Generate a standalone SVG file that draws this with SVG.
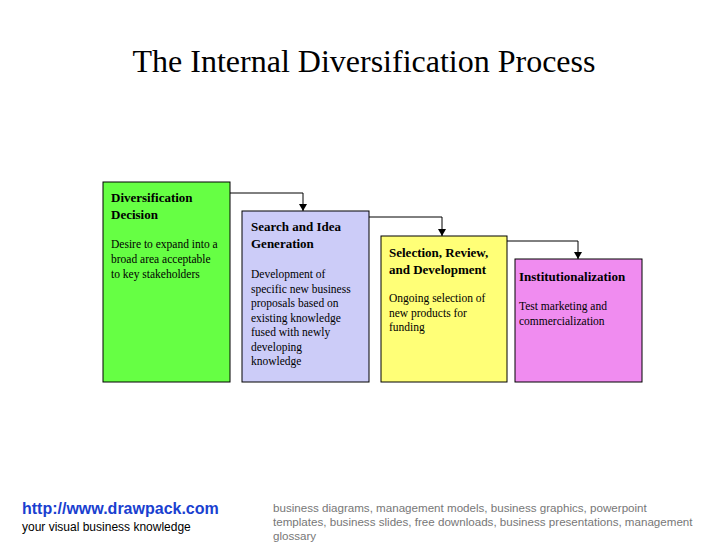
<svg xmlns="http://www.w3.org/2000/svg" width="728" height="546" viewBox="0 0 728 546">
<style>
.box{stroke:#000;stroke-width:1}
.h{font-family:"Liberation Serif",serif;font-size:13px;font-weight:bold;fill:#000}
.b{font-family:"Liberation Serif",serif;font-size:11.5px;fill:#000}
.c{fill:none;stroke:#000;stroke-width:1}
</style>
<defs><marker id="a" markerWidth="8" markerHeight="8" refX="7" refY="4" orient="auto" markerUnits="userSpaceOnUse"><path d="M0,0 L7,4 L0,8 z" fill="#000"/></marker></defs>
<rect width="728" height="546" fill="#fff"/>
<text x="364" y="72" text-anchor="middle" font-family="Liberation Serif,serif" font-size="32">The Internal Diversification Process</text>
<g id="connectors">
<path class="c" d="M230,193 H303 V211" marker-end="url(#a)"/>
<path class="c" d="M369,217 H442 V236" marker-end="url(#a)"/>
<path class="c" d="M507,241 H578 V259" marker-end="url(#a)"/>
</g>
<g id="n1"><rect class="box" x="103" y="182" width="127" height="200" fill="#66ff44"/>
<text class="h" x="111" y="202">Diversification</text><text class="h" x="111" y="219">Decision</text>
<text class="b" x="111" y="248">Desire to expand into a</text><text class="b" x="111" y="263">broad area acceptable</text><text class="b" x="111" y="278">to key stakeholders</text></g>
<g id="n2"><rect class="box" x="242" y="211" width="127" height="171" fill="#ccccf8"/>
<text class="h" x="251" y="231">Search and Idea</text><text class="h" x="251" y="248">Generation</text>
<text class="b" x="251" y="278">Development of</text><text class="b" x="251" y="293">specific new business</text><text class="b" x="251" y="307">proposals based on</text><text class="b" x="251" y="322">existing knowledge</text><text class="b" x="251" y="336">fused with newly</text><text class="b" x="251" y="351">developing</text><text class="b" x="251" y="365">knowledge</text></g>
<g id="n3"><rect class="box" x="381" y="236" width="126" height="146" fill="#ffff77"/>
<text class="h" x="389" y="257">Selection, Review,</text><text class="h" x="389" y="274">and Development</text>
<text class="b" x="389" y="302">Ongoing selection of</text><text class="b" x="389" y="317">new products for</text><text class="b" x="389" y="331">funding</text></g>
<g id="n4"><rect class="box" x="515" y="259" width="127" height="123" fill="#f08cf0"/>
<text class="h" x="519" y="281">Institutionalization</text>
<text class="b" x="519" y="310">Test marketing and</text><text class="b" x="519" y="325">commercialization</text></g>
<text x="22" y="514" font-family="Liberation Sans,sans-serif" font-size="16" font-weight="bold" fill="#1a3fd0">http://www.drawpack.com</text>
<text x="22" y="531" font-family="Liberation Sans,sans-serif" font-size="12">your visual business knowledge</text>
<g font-family="Liberation Sans,sans-serif" font-size="11.6" fill="#777">
<text x="273" y="512">business diagrams, management models, business graphics, powerpoint</text>
<text x="273" y="526">templates, business slides, free downloads, business presentations, management</text>
<text x="273" y="540">glossary</text></g>
</svg>
